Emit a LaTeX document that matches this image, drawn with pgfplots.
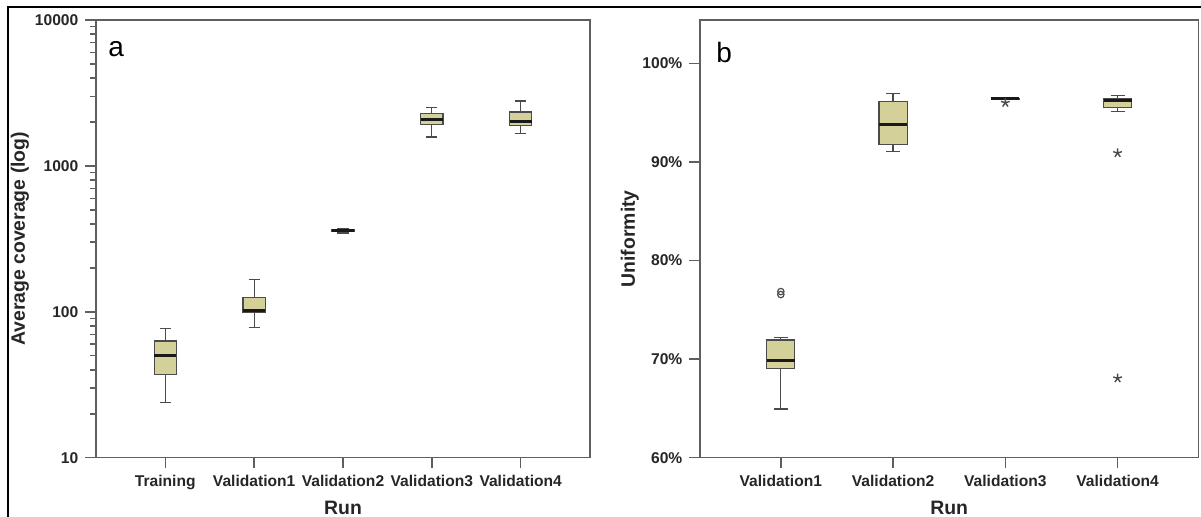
\documentclass[border=0pt]{standalone}
\usepackage{pgfplots}
\pgfplotsset{compat=1.18}
\usetikzlibrary{plotmarks}
\usepackage{fontspec}
\setmainfont{Liberation Sans}
\definecolor{boxfill}{RGB}{212,208,154}
\definecolor{axgray}{RGB}{95,95,95}
\definecolor{boxedge}{RGB}{75,75,75}
\pgfplotsset{
  myaxis/.style={
    scale only axis, height=218.85pt, anchor=north west,
    axis line style={axgray, line width=0.75pt},
    tick style={axgray, line width=0.75pt},
    tick align=outside, major tick length=5.3pt,
    tick pos=left, minor tick num=0,
    ticklabel style={font=\bfseries\fontsize{7.8}{9}\selectfont, text=black!85},
    every axis x label/.style={at={(axis description cs:0.5,-0.13)},anchor=base,
      font=\bfseries\fontsize{9.7}{11}\selectfont, text=black!85},
    clip=false, unbounded coords=jump,
  },
}
% box: #1 position, #2 lower whisker, #3 lower quartile, #4 median, #5 upper quartile, #6 upper whisker
\newcommand{\bx}[6]{%
  \pgfmathsetmacro\bxl{#1-0.125}\pgfmathsetmacro\bxr{#1+0.125}%
  \pgfmathsetmacro\bcl{#1-0.0625}\pgfmathsetmacro\bcr{#1+0.0625}%
  \edef\tmp{\noexpand\addplot[draw=boxedge, line width=0.6pt] coordinates {(\bcl,#2) (\bcr,#2) (#1,nan) (#1,#2) (#1,#3) (#1,nan) (#1,#5) (#1,#6) (#1,nan) (\bcl,#6) (\bcr,#6)};%
    \noexpand\addplot[draw=boxedge, fill=boxfill, line width=0.6pt] coordinates {(\bxl,#3) (\bxr,#3) (\bxr,#5) (\bxl,#5)} -- cycle;%
    \noexpand\addplot[draw=black!90, line width=1.5pt] coordinates {(\bxl,#4) (\bxr,#4)};}%
  \tmp}
\begin{document}
\begin{tikzpicture}
\useasboundingbox (0,0) rectangle (600.5pt,-258.5pt);
\draw[line width=1.1pt] (4pt,-262pt) -- (4pt,-3.7pt) -- (602pt,-3.7pt);
% panel a
\begin{axis}[myaxis, at={(48pt,-10pt)}, width=247pt,
  ymode=log, ymin=10, ymax=10000,
  ytick={10,100,1000,10000}, yticklabels={10,100,1000,10000},
  xmin=-0.78, xmax=4.78, xtick={0,1,2,3,4},
  xticklabels={Training,Validation1,Validation2,Validation3,Validation4},
  xlabel={Run}, ylabel={Average coverage (log)},
  every axis y label/.style={at={(axis description cs:-0.154,0.5)},rotate=90,anchor=center,
    font=\bfseries\fontsize{9.7}{11}\selectfont, text=black!85},
]
\bx{0}{24.0}{37.1}{49.8}{63.0}{77.1}
\bx{1}{78.4}{99}{102.3}{125.7}{167}
\bx{2}{347}{353}{359}{366}{372}
\bx{3}{1578}{1916}{2086}{2281}{2523}
\bx{4}{1676}{1888}{2023}{2339}{2786}
\node[anchor=base west, inner sep=0pt, font=\fontsize{14}{16}\selectfont] at (axis description cs:0.024,0.9155) {a};
\end{axis}
% panel b
\begin{axis}[myaxis, at={(350pt,-10pt)}, width=249.2pt,
  ymin=60, ymax=104.4,
  ytick={60,70,80,90,100}, yticklabels={60\%,70\%,80\%,90\%,100\%},
  xmin=-0.72, xmax=3.72, xtick={0,1,2,3},
  xticklabels={Validation1,Validation2,Validation3,Validation4},
  xlabel={Run}, ylabel={Uniformity},
  every axis y label/.style={at={(axis description cs:-0.1408,0.5)},rotate=90,anchor=center,
    font=\bfseries\fontsize{9.7}{11}\selectfont, text=black!85},
]
\bx{0}{64.94}{69.03}{69.84}{71.94}{72.2}
\bx{1}{91.03}{91.78}{93.8}{96.1}{96.96}
\bx{2}{96.36}{96.36}{96.42}{96.46}{96.46}
\bx{3}{95.13}{95.53}{96.2}{96.38}{96.78}
\addplot[only marks, mark=o, mark size=1.6pt, draw=boxedge, line width=0.6pt] coordinates {(0,76.55) (0,76.85)};
\addplot[only marks, mark=star, mark size=2.3pt, draw=boxedge, line width=0.7pt] coordinates {(2,96.0) (3,90.9) (3,68.05)};
\node[anchor=base west, inner sep=0pt, font=\fontsize{14}{16}\selectfont] at (axis description cs:0.032,0.904) {b};
\end{axis}
\end{tikzpicture}
\end{document}
